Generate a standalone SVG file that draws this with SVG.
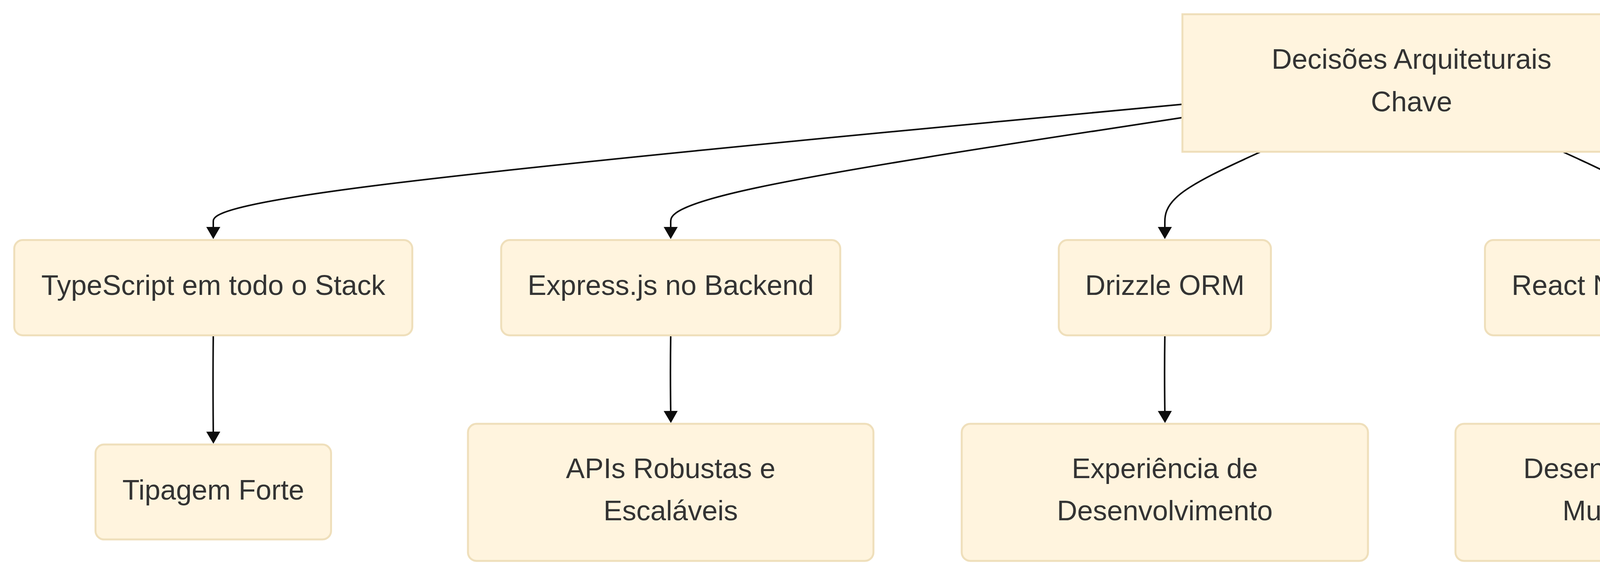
<svg xmlns="http://www.w3.org/2000/svg" width="7840" height="1490" viewBox="0 0 7840 1490">
<style>
.node rect{fill:#fff4de;stroke:#efdfbb;stroke-width:5}
.node text{font-family:"Liberation Sans",Arial,Helvetica,sans-serif;font-size:72px;fill:#333333;text-anchor:middle}
.edges path{fill:none;stroke:#0d0d0d;stroke-width:4;marker-end:url(#arrow)}
</style>
<defs>
<marker id="arrow" markerUnits="userSpaceOnUse" viewBox="0 0 31 36" markerWidth="31" markerHeight="36" refX="0" refY="18" orient="auto">
<path d="M0,0 L31,18 L0,36 z" fill="#0d0d0d"/>
</marker>
</defs>
<rect x="0" y="0" width="7840" height="1490" fill="#ffffff"/>
<g class="edges" id="connectors">
<path d="M3027,266.9 L2613.5,305.9 C2200,344.9 1373,423 959.5,475.3 C546,527.7 546,554.3 546,567.7 L546,581"/>
<path d="M3027,301.1 L2808.7,334.4 C2590.3,367.7 2153.7,434.4 1935.3,481 C1717,527.7 1717,554.3 1717,567.7 L1717,581"/>
<path d="M3228.7,388 L3187.6,406.8 C3146.5,425.7 3064.2,463.3 3023.1,495.5 C2982,527.7 2982,554.3 2982,567.7 L2982,581"/>
<path d="M3999.3,388 L4040.4,406.8 C4081.5,425.7 4163.8,463.3 4204.9,495.5 C4246,527.7 4246,554.3 4246,567.7 L4246,581"/>
<path d="M4201,301.4 L4418.2,334.7 C4635.3,367.9 5069.7,434.5 5286.8,481.1 C5504,527.7 5504,554.3 5504,567.7 L5504,581"/>
<path d="M4201,261.3 L4671.8,301.3 C5142.7,341.2 6084.3,421.1 6555.2,474.4 C7026,527.7 7026,554.3 7026,567.7 L7026,581"/>
<path d="M546,860 C545,950 545,1000 546,1105"/>
<path d="M1717,860 C1716,930 1716,980 1717,1052"/>
<path d="M2982,860 C2981,930 2981,980 2982,1052"/>
<path d="M4246,860 C4245,930 4245,980 4246,1052"/>
<path d="M5504,860 C5503,950 5503,1000 5504,1105"/>
<path d="M6800.7,860 L6767.1,878.5 C6733.5,897 6666.2,934 6632.6,974.8 C6599,1015.7 6599,1060.3 6599,1082.7 L6599,1105"/>
<path d="M7250.8,860 L7284.3,878.5 C7317.9,897 7384.9,934 7418.5,974.8 C7452,1015.7 7452,1060.3 7452,1082.7 L7452,1105"/>
</g>
<g class="node" id="root">
<rect x="3027" y="36.5" width="1173" height="352"/>
<text x="3613.5" y="176">Decisões Arquiteturais</text>
<text x="3613.5" y="285">Chave</text>
</g>
<g class="node" id="typescript">
<rect x="36.5" y="614.5" width="1019" height="244" rx="22" ry="22"/>
<text x="546" y="755">TypeScript em todo o Stack</text>
</g>
<g class="node" id="express">
<rect x="1283" y="614.5" width="868" height="244" rx="22" ry="22"/>
<text x="1717" y="755">Express.js no Backend</text>
</g>
<g class="node" id="drizzle">
<rect x="2710.5" y="614.5" width="543" height="244" rx="22" ry="22"/>
<text x="2982" y="755">Drizzle ORM</text>
</g>
<g class="node" id="reactnative">
<rect x="3801.5" y="614.5" width="889" height="244" rx="22" ry="22"/>
<text x="4246" y="755">React Native com Expo</text>
</g>
<g class="node" id="padroes">
<rect x="5128" y="614.5" width="752" height="244" rx="22" ry="22"/>
<text x="5504" y="755">Padrões de Projeto</text>
</g>
<g class="node" id="performance">
<rect x="6602" y="614.5" width="848" height="244" rx="22" ry="22"/>
<text x="7026" y="755">Foco em Performance</text>
</g>
<g class="node" id="tipagem">
<rect x="244.5" y="1138" width="603" height="243" rx="22" ry="22"/>
<text x="546" y="1279">Tipagem Forte</text>
</g>
<g class="node" id="apis">
<rect x="1198" y="1085" width="1038" height="351" rx="22" ry="22"/>
<text x="1717" y="1224">APIs Robustas e</text>
<text x="1717" y="1332">Escaláveis</text>
</g>
<g class="node" id="experiencia">
<rect x="2462" y="1085" width="1040" height="351" rx="22" ry="22"/>
<text x="2982" y="1224">Experiência de</text>
<text x="2982" y="1332">Desenvolvimento</text>
</g>
<g class="node" id="agil">
<rect x="3726" y="1085" width="1040" height="351" rx="22" ry="22"/>
<text x="4246" y="1224">Desenvolvimento Ágil</text>
<text x="4246" y="1332">Multiplataforma</text>
</g>
<g class="node" id="organizacao">
<rect x="4993" y="1138" width="1022" height="243" rx="22" ry="22"/>
<text x="5504" y="1279">Organização e Manutenção</text>
</g>
<g class="node" id="redis">
<rect x="6243" y="1138" width="712" height="243" rx="22" ry="22"/>
<text x="6599" y="1279">Redis para Cache</text>
</g>
<g class="node" id="reactquery">
<rect x="7182" y="1138" width="540" height="243" rx="22" ry="22"/>
<text x="7452" y="1279">React Query</text>
</g>
</svg>
